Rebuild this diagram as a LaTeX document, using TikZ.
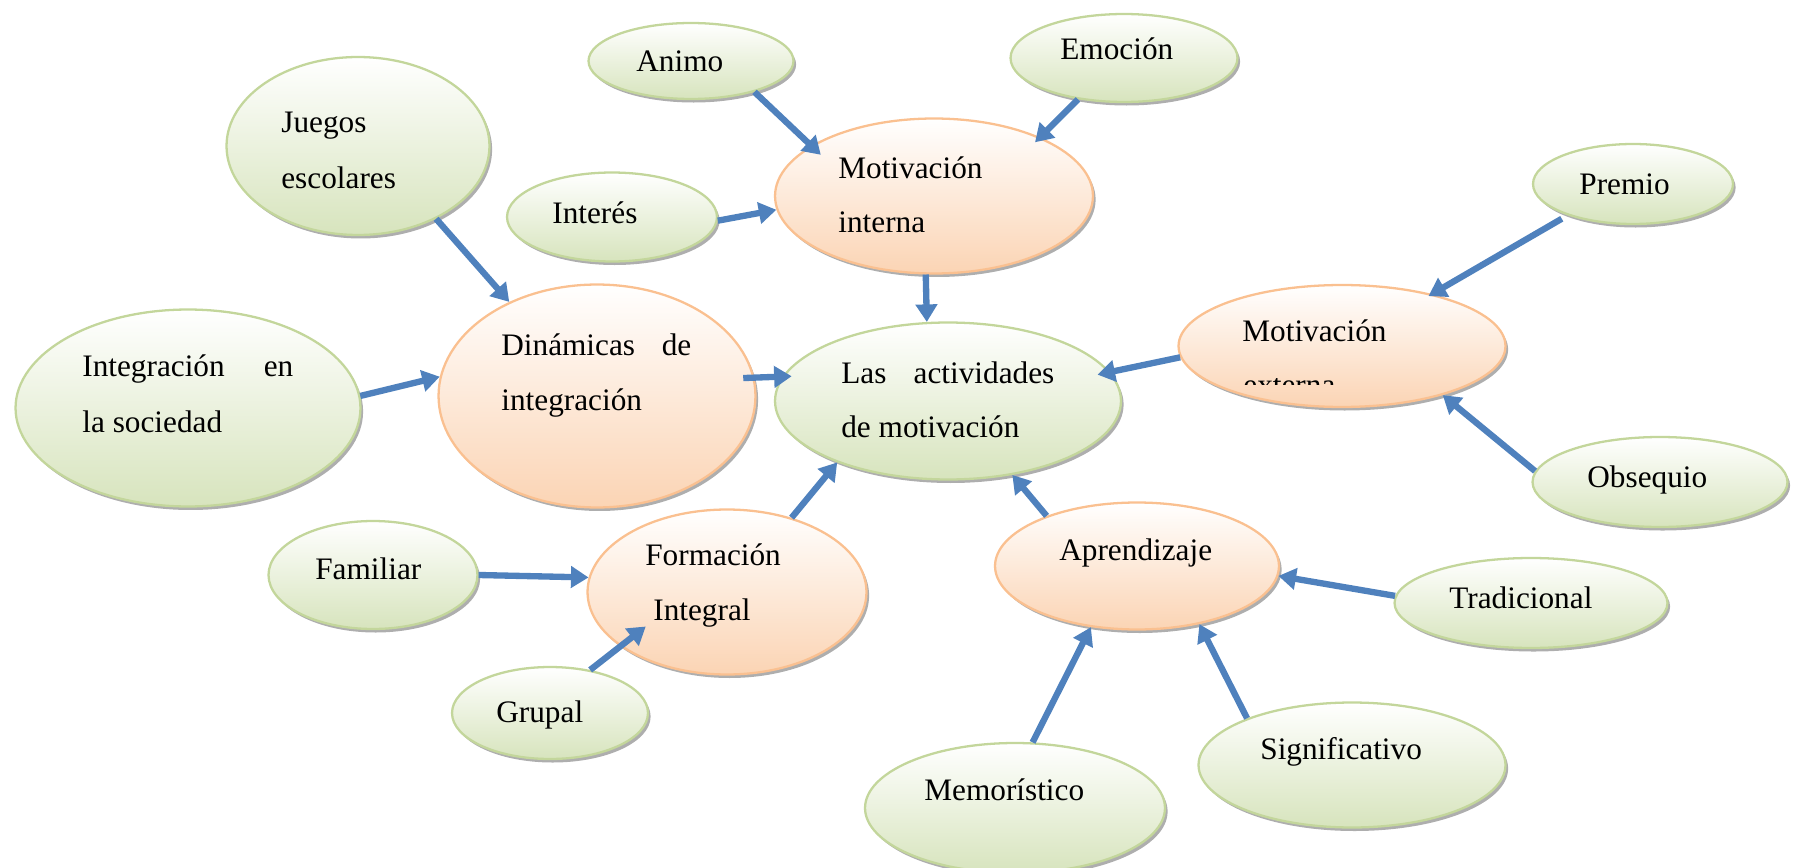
\documentclass[tikz,border=0pt]{standalone}
\usepackage{fontspec}
\setmainfont{Liberation Serif}
\usetikzlibrary{shapes.geometric, shadows, arrows.meta, calc}

\definecolor{leafline}{HTML}{C3D69B}
\definecolor{leaffill}{HTML}{D7E4BD}
\definecolor{hubline}{HTML}{FAC090}
\definecolor{hubfill}{HTML}{FBD4B4}
\definecolor{arrowblue}{HTML}{4F81BD}

\tikzset{
  leaf/.style={ellipse, draw=leafline, line width=1.3pt, inner sep=0pt,
    top color=white, bottom color=leaffill,
    drop shadow={shadow xshift=1.5pt, shadow yshift=-2pt, fill=black!70, opacity=.45}},
  hub/.style={ellipse, draw=hubline, line width=1.3pt, inner sep=0pt,
    top color=white, bottom color=hubfill,
    drop shadow={shadow xshift=1.5pt, shadow yshift=-2pt, fill=black!70, opacity=.45}},
  txt/.style={inner sep=0pt, anchor=base west, font=\fontsize{17.8}{30}\selectfont},
  arr/.style={draw=arrowblue, line width=3.6pt, -{Triangle[width=12pt,length=10pt]}}
}

\begin{document}
\begin{tikzpicture}[x=0.02cm, y=-0.02cm]
    \useasboundingbox (0,0) rectangle (1798,868);

    % ellipses
    \node[leaf, minimum width=4.10cm, minimum height=1.52cm] (animo) at (691,61) {};
    \node[leaf, minimum width=4.54cm, minimum height=1.76cm] (emocion) at (1124,58) {};
    \node[leaf, minimum width=5.26cm, minimum height=3.56cm] (juegos) at (358,146) {};
    \node[leaf, minimum width=4.20cm, minimum height=1.78cm] (interes) at (612,217) {};
    \node[hub, minimum width=6.36cm, minimum height=3.10cm] (motint) at (934,196) {};
    \node[leaf, minimum width=4.00cm, minimum height=1.60cm] (premio) at (1633,184) {};
    \node[hub, minimum width=6.54cm, minimum height=2.44cm] (motext) at (1342,346) {};
    \node[leaf, minimum width=6.90cm, minimum height=3.94cm] (integ) at (188,408) {};
    \node[hub, minimum width=6.34cm, minimum height=4.46cm] (dinam) at (597,396) {};
    \node[leaf, minimum width=6.92cm, minimum height=3.14cm] (activ) at (948,401) {};
    \node[leaf, minimum width=5.10cm, minimum height=1.80cm] (obseq) at (1660,482) {};
    \node[leaf, minimum width=4.18cm, minimum height=2.16cm] (familiar) at (373,575) {};
    \node[hub, minimum width=5.58cm, minimum height=3.30cm] (formac) at (727,592) {};
    \node[hub, minimum width=5.68cm, minimum height=2.54cm] (aprend) at (1137,566) {};
    \node[leaf, minimum width=5.46cm, minimum height=1.80cm] (tradic) at (1531,603) {};
    \node[leaf, minimum width=3.92cm, minimum height=1.84cm] (grupal) at (550,713) {};
    \node[leaf, minimum width=6.14cm, minimum height=2.50cm] (signif) at (1352,765) {};
    \node[leaf, minimum width=6.00cm, minimum height=2.60cm] (memor) at (1015,808) {};

    % texts
    \node[txt] (animo-t) at (636,72) {Animo};
    \node[txt] (emocion-t) at (1060,60) {Emoción};
    \node[txt] (juegos-t1) at (281,133) {Juegos};
    \node[txt] (juegos-t2) at (281,189) {escolares};
    \node[txt] (interes-t) at (552,224) {Interés};
    \node[txt] (motint-t1) at (838,179) {Motivación};
    \node[txt] (motint-t2) at (838,233) {interna};
    \node[txt] (premio-t) at (1579,195) {Premio};
    \node[txt] (motext-t1) at (1242,341) {Motivación};
    \begin{scope}
      \clip (1180,378) rectangle (1500,384);
      \node[txt] (motext-t2) at (1243,395) {externa};
    \end{scope}
    \node[txt] (integ-t1) at (82,376) {\hbox to 4.22cm{Integración\hfill en}};
    \node[txt] (integ-t2) at (82,432) {la sociedad};
    \node[txt] (dinam-t1) at (501,355) {\hbox to 3.80cm{Dinámicas\hfill de}};
    \node[txt] (dinam-t2) at (501,410) {integración};
    \node[txt] (activ-t1) at (841,383) {\hbox to 4.26cm{Las\hfill actividades}};
    \node[txt] (activ-t2) at (841,437) {de motivación};
    \node[txt] (obseq-t) at (1587,487) {Obsequio};
    \node[txt] (familiar-t) at (315,579) {Familiar};
    \node[txt] (formac-t1) at (645,565) {Formación};
    \node[txt] (formac-t2) at (653,620) {Integral};
    \node[txt] (aprend-t) at (1059,560) {Aprendizaje};
    \node[txt] (tradic-t) at (1449,608) {Tradicional};
    \node[txt] (grupal-t) at (496,722) {Grupal};
    \node[txt] (signif-t) at (1260,759) {Significativo};
    \node[txt] (memor-t) at (924,800) {Memorístico};

    % arrows
    \draw[arr] (animo.-26) -- ($(motint.center)!0.88!(motint.160)$);
    \draw[arr] (emocion.-138) -- ($(motint.center)!0.93!(motint.28)$);
    \draw[arr] (interes.-2) -- (motint.-175);
    \draw[arr] (motint.-96) -- (activ.105);
    \draw[arr] (juegos.-43) -- (dinam.133);
    \draw[arr] (integ.4) -- (dinam.173);
    \draw[arr] ($(dinam.center)!0.93!(dinam.7.5)$) -- ($(activ.center)!0.95!(activ.171)$);
    \draw[arr] ($(premio.center)!1.1!(premio.-154)$) -- ($(motext.center)!0.96!(motext.30)$);
    \draw[arr] (motext.-176) -- ($(activ.center)!0.92!(activ.10)$);
    \draw[arr] (obseq.175.5) -- (motext.-26);
    \draw[arr] (familiar.0) -- (formac.174);
    \draw[arr] (grupal.47) -- ($(formac.center)!0.71!(formac.-157)$);
    \draw[arr] (formac.49) -- (activ.-151);
    \draw[arr] (aprend.151) -- (activ.-49);
    \draw[arr] (tradic.177) -- (aprend.-4.4);
    \draw[arr] (memor.75) -- (aprend.-127);
    \draw[arr] (signif.156) -- (aprend.-43);
\end{tikzpicture}
\end{document}
